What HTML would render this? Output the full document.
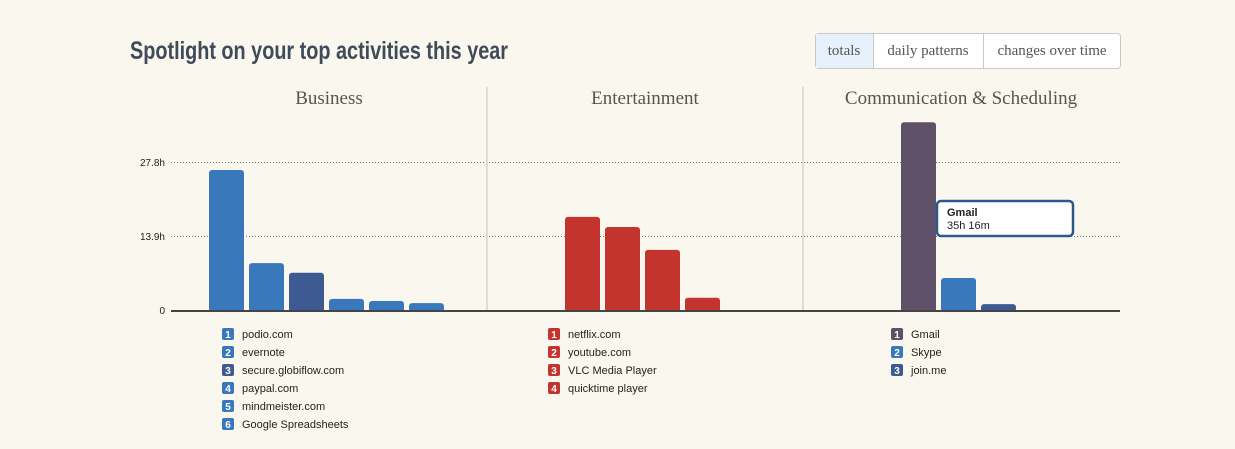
<!DOCTYPE html>
<html><head><meta charset="utf-8">
<style>
html,body{margin:0;padding:0;background:#faf8ee;}
svg{display:block;}
</style></head>
<body>
<svg id="chart" width="1235" height="449" xmlns="http://www.w3.org/2000/svg">
<rect width="1235" height="449" fill="#faf8ee"/>
<text x="130" y="59" font-family="Liberation Sans, sans-serif" font-weight="bold" font-size="25" fill="#3f4b59" textLength="378" lengthAdjust="spacingAndGlyphs">Spotlight on your top activities this year</text>
<g font-family="Liberation Serif, serif" font-size="15" fill="#555">
<rect x="815.5" y="33.5" width="305" height="35" rx="3" fill="#fff" stroke="#c8c8c8"/>
<rect x="816" y="34" width="57" height="34" fill="#e6f1fb"/>
<line x1="873.5" y1="34" x2="873.5" y2="68" stroke="#c8c8c8"/>
<line x1="983.5" y1="34" x2="983.5" y2="68" stroke="#c8c8c8"/>
<text x="844" y="55" text-anchor="middle">totals</text>
<rect x="874" y="34" width="109" height="34" fill="transparent"/>
<text x="928" y="55" text-anchor="middle">daily patterns</text>
<rect x="984" y="34" width="136" height="34" fill="transparent"/>
<text x="1052" y="55" text-anchor="middle">changes over time</text>
</g>
<g id="plot"></g>
</svg>
<script>
const yTicks = [0, 13.9, 27.8];
const yTickLabels = ["0", "13.9h", "27.8h"];
const groupTitles = ["Business", "Entertainment", "Communication & Scheduling"];
const businessNames = ["podio.com","evernote","secure.globiflow.com","paypal.com","mindmeister.com","Google Spreadsheets"];
const businessValues = [26.3, 8.8, 7.0, 2.1, 1.7, 1.3];
const businessColors = ["#3878bb","#3878bb","#3d5a93","#3878bb","#3878bb","#3878bb"];
const entNames = ["netflix.com","youtube.com","VLC Media Player","quicktime player"];
const entValues = [17.5, 15.6, 11.3, 2.3];
const commNames = ["Gmail","Skype","join.me"];
const commValues = [35.27, 6.0, 1.1];
const commColors = ["#5e5066","#3878bb","#3d5a93"];
const tooltipTitle = "Gmail";
const tooltipValue = "35h 16m";

const NS = "http://www.w3.org/2000/svg";
const plot = document.getElementById('plot');
const y0 = 310, pxPerH = 148/27.8;
const yScale = v => y0 - v*pxPerH;
function mk(tag, attrs, parent){
  const e = document.createElementNS(NS, tag);
  for (const k in attrs) e.setAttribute(k, attrs[k]);
  (parent||plot).appendChild(e); return e;
}
// grid + ticks
yTicks.forEach((t,i)=>{
  if (t>0){
    const g = mk('line',{x1:171,x2:1120,y1:yScale(t)+0.5,y2:yScale(t)+0.5,stroke:'#777','stroke-dasharray':'1,2'});
    
    
  }
  const tl = mk('text',{x:165,y:yScale(t)+4,'text-anchor':'end','font-family':'Liberation Sans, sans-serif','font-size':10,fill:'#222'});
  tl.textContent = yTickLabels[i];
  
  
});
// dividers
[487, 803].forEach(x=>{
  const d = mk('line',{x1:x,x2:x,y1:87,y2:310,stroke:'#ddd','stroke-width':2});
  
  
});
const groups = [
  {names:businessNames, values:businessValues, colors:businessColors, barX:209, legX:222, cx:329},
  {names:entNames, values:entValues, colors:entNames.map(()=> "#c3342f"), barX:565, legX:548, cx:645},
  {names:commNames, values:commValues, colors:commColors, barX:901, legX:891, cx:961}
];
groups.forEach((g,gi)=>{
  const t = mk('text',{x:g.cx,y:104,'text-anchor':'middle','font-family':'Liberation Serif, serif','font-size':19,fill:'#555'});
  t.textContent = groupTitles[gi];
  
  
  g.values.forEach((v,i)=>{
    const top = yScale(v);
    const b = mk('rect',{x:g.barX+i*40,y:top,width:35,height:y0-top+2,rx:3,fill:g.colors[i]});
    
    
    const ly = 328 + i*18;
    const sq = mk('rect',{x:g.legX,y:ly,width:12,height:12,rx:2,fill:g.colors[i]});
    
    
    const n = mk('text',{x:g.legX+6,y:ly+10,'text-anchor':'middle','font-family':'Liberation Sans, sans-serif','font-weight':'bold','font-size':10,fill:'#fff'});
    n.textContent = String(i+1);
    
    
    const lt = mk('text',{x:g.legX+20,y:ly+10,'font-family':'Liberation Sans, sans-serif','font-size':11,fill:'#222'});
    lt.textContent = g.names[i];
    
    
  });
});
// baseline
const base = mk('line',{x1:171,x2:1120,y1:311,y2:311,stroke:'#444','stroke-width':2});


// tooltip
const tip = mk('g',{});


mk('rect',{x:937,y:201,width:136,height:35,rx:4,fill:'#fff',stroke:'#2a5a8c','stroke-width':2.5},tip);
const tt = mk('text',{x:947,y:216,'font-family':'Liberation Sans, sans-serif','font-weight':'bold','font-size':11,fill:'#222'},tip);
tt.textContent = tooltipTitle;
const tv = mk('text',{x:947,y:229,'font-family':'Liberation Sans, sans-serif','font-size':11,fill:'#222'},tip);
tv.textContent = tooltipValue;
</script>
</body></html>
